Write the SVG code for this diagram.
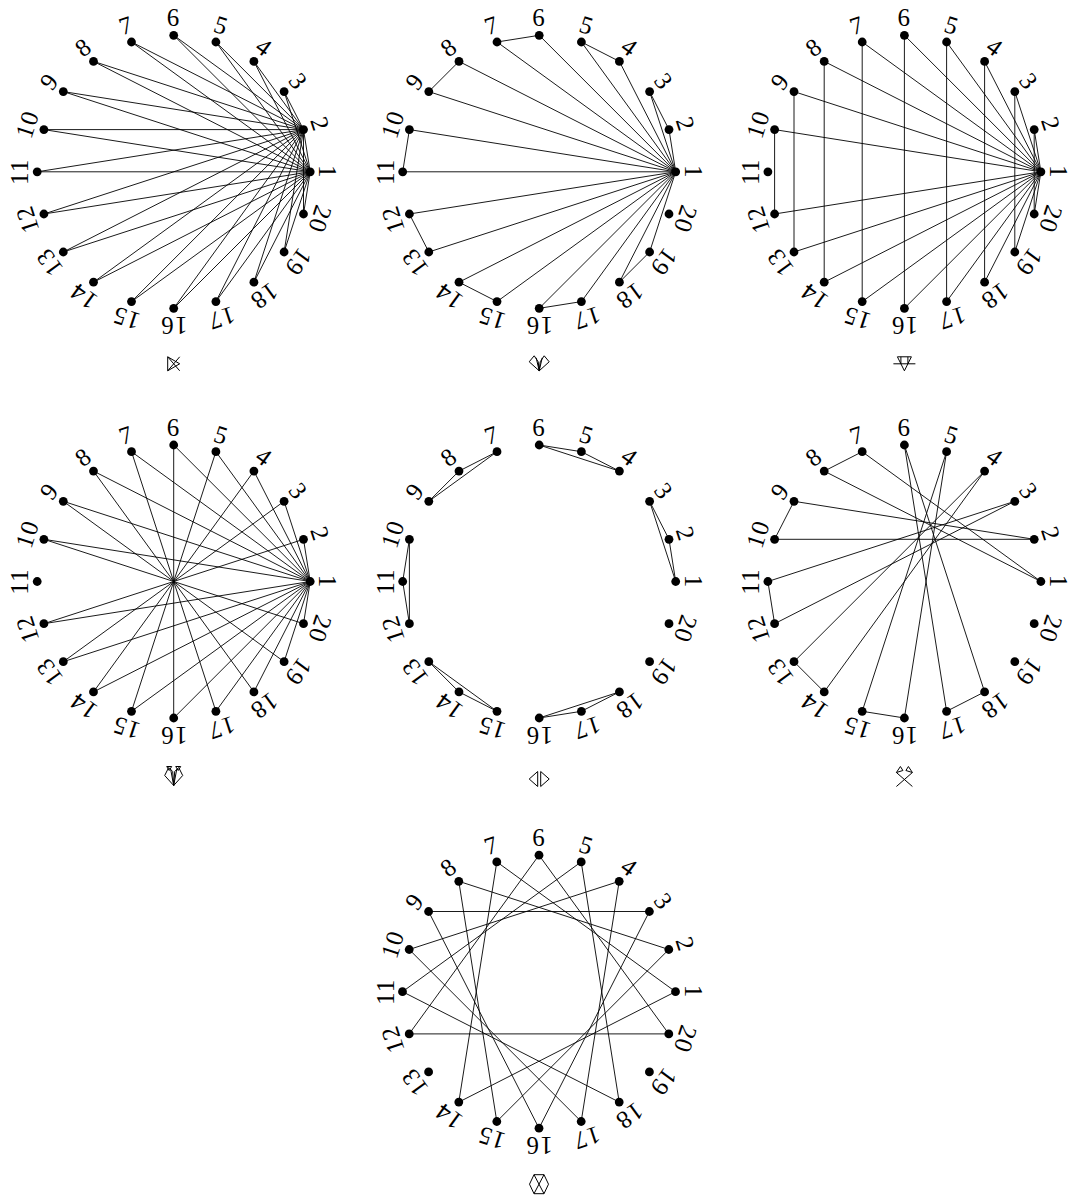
<svg xmlns="http://www.w3.org/2000/svg" width="1073" height="1201" viewBox="0 0 1073 1201">
<style>
.e path{stroke:#000;stroke-width:0.9;fill:none;stroke-linecap:round}
.n circle{fill:#000}
.n text{font-family:"Liberation Serif","DejaVu Serif",serif;font-size:25px;letter-spacing:1.2px;text-anchor:middle;dominant-baseline:central;fill:#000}
.s{stroke:#000;stroke-width:1;fill:none;stroke-linejoin:miter}
</style>
<rect width="1073" height="1201" fill="#fff"/>

<!-- Panel 1 -->
<g id="panel1" transform="translate(173.7 171.8)">
<g id="p1-edges" class="e">
<path d="M136.5,0L129.8,-42.2"/>
<path d="M136.5,0L110.4,-80.2"/><path d="M136.5,0L80.2,-110.4"/><path d="M136.5,0L42.2,-129.8"/><path d="M136.5,0L0,-136.5"/><path d="M136.5,0L-42.2,-129.8"/><path d="M136.5,0L-80.2,-110.4"/><path d="M136.5,0L-110.4,-80.2"/><path d="M136.5,0L-129.8,-42.2"/><path d="M136.5,0L-136.5,0"/><path d="M136.5,0L-129.8,42.2"/><path d="M136.5,0L-110.4,80.2"/><path d="M136.5,0L-80.2,110.4"/><path d="M136.5,0L-42.2,129.8"/><path d="M136.5,0L0,136.5"/><path d="M136.5,0L42.2,129.8"/><path d="M136.5,0L80.2,110.4"/><path d="M136.5,0L110.4,80.2"/><path d="M136.5,0L129.8,42.2"/>
<path d="M129.8,-42.2L110.4,-80.2"/><path d="M129.8,-42.2L80.2,-110.4"/><path d="M129.8,-42.2L42.2,-129.8"/><path d="M129.8,-42.2L0,-136.5"/><path d="M129.8,-42.2L-42.2,-129.8"/><path d="M129.8,-42.2L-80.2,-110.4"/><path d="M129.8,-42.2L-110.4,-80.2"/><path d="M129.8,-42.2L-129.8,-42.2"/><path d="M129.8,-42.2L-136.5,0"/><path d="M129.8,-42.2L-129.8,42.2"/><path d="M129.8,-42.2L-110.4,80.2"/><path d="M129.8,-42.2L-80.2,110.4"/><path d="M129.8,-42.2L-42.2,129.8"/><path d="M129.8,-42.2L0,136.5"/><path d="M129.8,-42.2L42.2,129.8"/><path d="M129.8,-42.2L80.2,110.4"/><path d="M129.8,-42.2L110.4,80.2"/><path d="M129.8,-42.2L129.8,42.2"/>
</g>
<g id="p1-n1" class="n"><circle cx="136.5" cy="0" r="4.4"/><text transform="rotate(0) translate(154) rotate(90)">1</text></g>
<g id="p1-n2" class="n"><circle cx="129.8" cy="-42.2" r="4.4"/><text transform="rotate(-18) translate(154) rotate(90)">2</text></g>
<g id="p1-n3" class="n"><circle cx="110.4" cy="-80.2" r="4.4"/><text transform="rotate(-36) translate(154) rotate(90)">3</text></g>
<g id="p1-n4" class="n"><circle cx="80.2" cy="-110.4" r="4.4"/><text transform="rotate(-54) translate(154) rotate(90)">4</text></g>
<g id="p1-n5" class="n"><circle cx="42.2" cy="-129.8" r="4.4"/><text transform="rotate(-72) translate(154) rotate(90)">5</text></g>
<g id="p1-n6" class="n"><circle cx="0" cy="-136.5" r="4.4"/><text transform="rotate(-90) translate(154) rotate(90)">6</text></g>
<g id="p1-n7" class="n"><circle cx="-42.2" cy="-129.8" r="4.4"/><text transform="rotate(-108) translate(154) rotate(90)">7</text></g>
<g id="p1-n8" class="n"><circle cx="-80.2" cy="-110.4" r="4.4"/><text transform="rotate(-126) translate(154) rotate(90)">8</text></g>
<g id="p1-n9" class="n"><circle cx="-110.4" cy="-80.2" r="4.4"/><text transform="rotate(-144) translate(154) rotate(90)">9</text></g>
<g id="p1-n10" class="n"><circle cx="-129.8" cy="-42.2" r="4.4"/><text transform="rotate(-162) translate(154) rotate(90)">10</text></g>
<g id="p1-n11" class="n"><circle cx="-136.5" cy="0" r="4.4"/><text transform="rotate(-180) translate(154) rotate(90)">11</text></g>
<g id="p1-n12" class="n"><circle cx="-129.8" cy="42.2" r="4.4"/><text transform="rotate(-198) translate(154) rotate(90)">12</text></g>
<g id="p1-n13" class="n"><circle cx="-110.4" cy="80.2" r="4.4"/><text transform="rotate(-216) translate(154) rotate(90)">13</text></g>
<g id="p1-n14" class="n"><circle cx="-80.2" cy="110.4" r="4.4"/><text transform="rotate(-234) translate(154) rotate(90)">14</text></g>
<g id="p1-n15" class="n"><circle cx="-42.2" cy="129.8" r="4.4"/><text transform="rotate(-252) translate(154) rotate(90)">15</text></g>
<g id="p1-n16" class="n"><circle cx="0" cy="136.5" r="4.4"/><text transform="rotate(-270) translate(154) rotate(90)">16</text></g>
<g id="p1-n17" class="n"><circle cx="42.2" cy="129.8" r="4.4"/><text transform="rotate(-288) translate(154) rotate(90)">17</text></g>
<g id="p1-n18" class="n"><circle cx="80.2" cy="110.4" r="4.4"/><text transform="rotate(-306) translate(154) rotate(90)">18</text></g>
<g id="p1-n19" class="n"><circle cx="110.4" cy="80.2" r="4.4"/><text transform="rotate(-324) translate(154) rotate(90)">19</text></g>
<g id="p1-n20" class="n"><circle cx="129.8" cy="42.2" r="4.4"/><text transform="rotate(-342) translate(154) rotate(90)">20</text></g>
<g id="p1-sym"><path class="s" d="M-6,185V199L6,192Z M-6,185L6,199 M-6,199L6,185"/></g>
</g>

<!-- Panel 2 -->
<g id="panel2" transform="translate(539.2 171.8)">
<g id="p2-edges" class="e">
<path d="M136.5,0L129.8,-42.2"/><path d="M136.5,0L110.4,-80.2"/><path d="M136.5,0L80.2,-110.4"/><path d="M136.5,0L42.2,-129.8"/><path d="M136.5,0L0,-136.5"/><path d="M136.5,0L-42.2,-129.8"/><path d="M136.5,0L-80.2,-110.4"/><path d="M136.5,0L-110.4,-80.2"/><path d="M136.5,0L-129.8,-42.2"/><path d="M136.5,0L-136.5,0"/><path d="M136.5,0L-129.8,42.2"/><path d="M136.5,0L-110.4,80.2"/><path d="M136.5,0L-80.2,110.4"/><path d="M136.5,0L-42.2,129.8"/><path d="M136.5,0L0,136.5"/><path d="M136.5,0L42.2,129.8"/><path d="M136.5,0L80.2,110.4"/><path d="M136.5,0L110.4,80.2"/>
<path d="M129.8,-42.2L110.4,-80.2"/><path d="M80.2,-110.4L42.2,-129.8"/><path d="M0,-136.5L-42.2,-129.8"/><path d="M-80.2,-110.4L-110.4,-80.2"/><path d="M-129.8,-42.2L-136.5,0"/><path d="M-129.8,42.2L-110.4,80.2"/><path d="M-80.2,110.4L-42.2,129.8"/><path d="M0,136.5L42.2,129.8"/><path d="M80.2,110.4L110.4,80.2"/>
</g>
<g id="p2-n1" class="n"><circle cx="136.5" cy="0" r="4.4"/><text transform="rotate(0) translate(154) rotate(90)">1</text></g>
<g id="p2-n2" class="n"><circle cx="129.8" cy="-42.2" r="4.4"/><text transform="rotate(-18) translate(154) rotate(90)">2</text></g>
<g id="p2-n3" class="n"><circle cx="110.4" cy="-80.2" r="4.4"/><text transform="rotate(-36) translate(154) rotate(90)">3</text></g>
<g id="p2-n4" class="n"><circle cx="80.2" cy="-110.4" r="4.4"/><text transform="rotate(-54) translate(154) rotate(90)">4</text></g>
<g id="p2-n5" class="n"><circle cx="42.2" cy="-129.8" r="4.4"/><text transform="rotate(-72) translate(154) rotate(90)">5</text></g>
<g id="p2-n6" class="n"><circle cx="0" cy="-136.5" r="4.4"/><text transform="rotate(-90) translate(154) rotate(90)">6</text></g>
<g id="p2-n7" class="n"><circle cx="-42.2" cy="-129.8" r="4.4"/><text transform="rotate(-108) translate(154) rotate(90)">7</text></g>
<g id="p2-n8" class="n"><circle cx="-80.2" cy="-110.4" r="4.4"/><text transform="rotate(-126) translate(154) rotate(90)">8</text></g>
<g id="p2-n9" class="n"><circle cx="-110.4" cy="-80.2" r="4.4"/><text transform="rotate(-144) translate(154) rotate(90)">9</text></g>
<g id="p2-n10" class="n"><circle cx="-129.8" cy="-42.2" r="4.4"/><text transform="rotate(-162) translate(154) rotate(90)">10</text></g>
<g id="p2-n11" class="n"><circle cx="-136.5" cy="0" r="4.4"/><text transform="rotate(-180) translate(154) rotate(90)">11</text></g>
<g id="p2-n12" class="n"><circle cx="-129.8" cy="42.2" r="4.4"/><text transform="rotate(-198) translate(154) rotate(90)">12</text></g>
<g id="p2-n13" class="n"><circle cx="-110.4" cy="80.2" r="4.4"/><text transform="rotate(-216) translate(154) rotate(90)">13</text></g>
<g id="p2-n14" class="n"><circle cx="-80.2" cy="110.4" r="4.4"/><text transform="rotate(-234) translate(154) rotate(90)">14</text></g>
<g id="p2-n15" class="n"><circle cx="-42.2" cy="129.8" r="4.4"/><text transform="rotate(-252) translate(154) rotate(90)">15</text></g>
<g id="p2-n16" class="n"><circle cx="0" cy="136.5" r="4.4"/><text transform="rotate(-270) translate(154) rotate(90)">16</text></g>
<g id="p2-n17" class="n"><circle cx="42.2" cy="129.8" r="4.4"/><text transform="rotate(-288) translate(154) rotate(90)">17</text></g>
<g id="p2-n18" class="n"><circle cx="80.2" cy="110.4" r="4.4"/><text transform="rotate(-306) translate(154) rotate(90)">18</text></g>
<g id="p2-n19" class="n"><circle cx="110.4" cy="80.2" r="4.4"/><text transform="rotate(-324) translate(154) rotate(90)">19</text></g>
<g id="p2-n20" class="n"><circle cx="129.8" cy="42.2" r="4.4"/><text transform="rotate(-342) translate(154) rotate(90)">20</text></g>
<g id="p2-sym"><path class="s" d="M0,199L-10,190L-5,184L-1,190Z M0,199L10,190L5,184L1,190Z M0,199L-3,186 M0,199L3,186"/></g>
</g>

<!-- Panel 3 -->
<g id="panel3" transform="translate(904.4 171.8)">
<g id="p3-edges" class="e">
<path d="M136.5,0L129.8,-42.2"/><path d="M136.5,0L110.4,-80.2"/><path d="M136.5,0L80.2,-110.4"/><path d="M136.5,0L42.2,-129.8"/><path d="M136.5,0L0,-136.5"/><path d="M136.5,0L-42.2,-129.8"/><path d="M136.5,0L-80.2,-110.4"/><path d="M136.5,0L-110.4,-80.2"/><path d="M136.5,0L-129.8,-42.2"/><path d="M136.5,0L-129.8,42.2"/><path d="M136.5,0L-110.4,80.2"/><path d="M136.5,0L-80.2,110.4"/><path d="M136.5,0L-42.2,129.8"/><path d="M136.5,0L0,136.5"/><path d="M136.5,0L42.2,129.8"/><path d="M136.5,0L80.2,110.4"/><path d="M136.5,0L110.4,80.2"/><path d="M136.5,0L129.8,42.2"/>
<path d="M129.8,-42.2L129.8,42.2"/><path d="M110.4,-80.2L110.4,80.2"/><path d="M80.2,-110.4L80.2,110.4"/><path d="M42.2,-129.8L42.2,129.8"/><path d="M0,-136.5L0,136.5"/><path d="M-42.2,-129.8L-42.2,129.8"/><path d="M-80.2,-110.4L-80.2,110.4"/><path d="M-110.4,-80.2L-110.4,80.2"/><path d="M-129.8,-42.2L-129.8,42.2"/>
</g>
<g id="p3-n1" class="n"><circle cx="136.5" cy="0" r="4.4"/><text transform="rotate(0) translate(154) rotate(90)">1</text></g>
<g id="p3-n2" class="n"><circle cx="129.8" cy="-42.2" r="4.4"/><text transform="rotate(-18) translate(154) rotate(90)">2</text></g>
<g id="p3-n3" class="n"><circle cx="110.4" cy="-80.2" r="4.4"/><text transform="rotate(-36) translate(154) rotate(90)">3</text></g>
<g id="p3-n4" class="n"><circle cx="80.2" cy="-110.4" r="4.4"/><text transform="rotate(-54) translate(154) rotate(90)">4</text></g>
<g id="p3-n5" class="n"><circle cx="42.2" cy="-129.8" r="4.4"/><text transform="rotate(-72) translate(154) rotate(90)">5</text></g>
<g id="p3-n6" class="n"><circle cx="0" cy="-136.5" r="4.4"/><text transform="rotate(-90) translate(154) rotate(90)">6</text></g>
<g id="p3-n7" class="n"><circle cx="-42.2" cy="-129.8" r="4.4"/><text transform="rotate(-108) translate(154) rotate(90)">7</text></g>
<g id="p3-n8" class="n"><circle cx="-80.2" cy="-110.4" r="4.4"/><text transform="rotate(-126) translate(154) rotate(90)">8</text></g>
<g id="p3-n9" class="n"><circle cx="-110.4" cy="-80.2" r="4.4"/><text transform="rotate(-144) translate(154) rotate(90)">9</text></g>
<g id="p3-n10" class="n"><circle cx="-129.8" cy="-42.2" r="4.4"/><text transform="rotate(-162) translate(154) rotate(90)">10</text></g>
<g id="p3-n11" class="n"><circle cx="-136.5" cy="0" r="4.4"/><text transform="rotate(-180) translate(154) rotate(90)">11</text></g>
<g id="p3-n12" class="n"><circle cx="-129.8" cy="42.2" r="4.4"/><text transform="rotate(-198) translate(154) rotate(90)">12</text></g>
<g id="p3-n13" class="n"><circle cx="-110.4" cy="80.2" r="4.4"/><text transform="rotate(-216) translate(154) rotate(90)">13</text></g>
<g id="p3-n14" class="n"><circle cx="-80.2" cy="110.4" r="4.4"/><text transform="rotate(-234) translate(154) rotate(90)">14</text></g>
<g id="p3-n15" class="n"><circle cx="-42.2" cy="129.8" r="4.4"/><text transform="rotate(-252) translate(154) rotate(90)">15</text></g>
<g id="p3-n16" class="n"><circle cx="0" cy="136.5" r="4.4"/><text transform="rotate(-270) translate(154) rotate(90)">16</text></g>
<g id="p3-n17" class="n"><circle cx="42.2" cy="129.8" r="4.4"/><text transform="rotate(-288) translate(154) rotate(90)">17</text></g>
<g id="p3-n18" class="n"><circle cx="80.2" cy="110.4" r="4.4"/><text transform="rotate(-306) translate(154) rotate(90)">18</text></g>
<g id="p3-n19" class="n"><circle cx="110.4" cy="80.2" r="4.4"/><text transform="rotate(-324) translate(154) rotate(90)">19</text></g>
<g id="p3-n20" class="n"><circle cx="129.8" cy="42.2" r="4.4"/><text transform="rotate(-342) translate(154) rotate(90)">20</text></g>
<g id="p3-sym"><path class="s" d="M-7,185H7 M-7,185L0,199L7,185 M-11,192H11 M-3.5,185V192 M3.5,185V192"/></g>
</g>

<!-- Panel 4 -->
<g id="panel4" transform="translate(173.7 581.5)">
<g id="p4-edges" class="e">
<path d="M136.5,0L129.8,-42.2"/><path d="M136.5,0L110.4,-80.2"/><path d="M136.5,0L80.2,-110.4"/><path d="M136.5,0L42.2,-129.8"/><path d="M136.5,0L0,-136.5"/><path d="M136.5,0L-42.2,-129.8"/><path d="M136.5,0L-80.2,-110.4"/><path d="M136.5,0L-110.4,-80.2"/><path d="M136.5,0L-129.8,-42.2"/><path d="M136.5,0L-129.8,42.2"/><path d="M136.5,0L-110.4,80.2"/><path d="M136.5,0L-80.2,110.4"/><path d="M136.5,0L-42.2,129.8"/><path d="M136.5,0L0,136.5"/><path d="M136.5,0L42.2,129.8"/><path d="M136.5,0L80.2,110.4"/><path d="M136.5,0L110.4,80.2"/><path d="M136.5,0L129.8,42.2"/>
<path d="M129.8,-42.2L-129.8,42.2"/><path d="M110.4,-80.2L-110.4,80.2"/><path d="M80.2,-110.4L-80.2,110.4"/><path d="M42.2,-129.8L-42.2,129.8"/><path d="M0,-136.5L0,136.5"/><path d="M-42.2,-129.8L42.2,129.8"/><path d="M-80.2,-110.4L80.2,110.4"/><path d="M-110.4,-80.2L110.4,80.2"/><path d="M-129.8,-42.2L129.8,42.2"/>
</g>
<g id="p4-n1" class="n"><circle cx="136.5" cy="0" r="4.4"/><text transform="rotate(0) translate(154) rotate(90)">1</text></g>
<g id="p4-n2" class="n"><circle cx="129.8" cy="-42.2" r="4.4"/><text transform="rotate(-18) translate(154) rotate(90)">2</text></g>
<g id="p4-n3" class="n"><circle cx="110.4" cy="-80.2" r="4.4"/><text transform="rotate(-36) translate(154) rotate(90)">3</text></g>
<g id="p4-n4" class="n"><circle cx="80.2" cy="-110.4" r="4.4"/><text transform="rotate(-54) translate(154) rotate(90)">4</text></g>
<g id="p4-n5" class="n"><circle cx="42.2" cy="-129.8" r="4.4"/><text transform="rotate(-72) translate(154) rotate(90)">5</text></g>
<g id="p4-n6" class="n"><circle cx="0" cy="-136.5" r="4.4"/><text transform="rotate(-90) translate(154) rotate(90)">6</text></g>
<g id="p4-n7" class="n"><circle cx="-42.2" cy="-129.8" r="4.4"/><text transform="rotate(-108) translate(154) rotate(90)">7</text></g>
<g id="p4-n8" class="n"><circle cx="-80.2" cy="-110.4" r="4.4"/><text transform="rotate(-126) translate(154) rotate(90)">8</text></g>
<g id="p4-n9" class="n"><circle cx="-110.4" cy="-80.2" r="4.4"/><text transform="rotate(-144) translate(154) rotate(90)">9</text></g>
<g id="p4-n10" class="n"><circle cx="-129.8" cy="-42.2" r="4.4"/><text transform="rotate(-162) translate(154) rotate(90)">10</text></g>
<g id="p4-n11" class="n"><circle cx="-136.5" cy="0" r="4.4"/><text transform="rotate(-180) translate(154) rotate(90)">11</text></g>
<g id="p4-n12" class="n"><circle cx="-129.8" cy="42.2" r="4.4"/><text transform="rotate(-198) translate(154) rotate(90)">12</text></g>
<g id="p4-n13" class="n"><circle cx="-110.4" cy="80.2" r="4.4"/><text transform="rotate(-216) translate(154) rotate(90)">13</text></g>
<g id="p4-n14" class="n"><circle cx="-80.2" cy="110.4" r="4.4"/><text transform="rotate(-234) translate(154) rotate(90)">14</text></g>
<g id="p4-n15" class="n"><circle cx="-42.2" cy="129.8" r="4.4"/><text transform="rotate(-252) translate(154) rotate(90)">15</text></g>
<g id="p4-n16" class="n"><circle cx="0" cy="136.5" r="4.4"/><text transform="rotate(-270) translate(154) rotate(90)">16</text></g>
<g id="p4-n17" class="n"><circle cx="42.2" cy="129.8" r="4.4"/><text transform="rotate(-288) translate(154) rotate(90)">17</text></g>
<g id="p4-n18" class="n"><circle cx="80.2" cy="110.4" r="4.4"/><text transform="rotate(-306) translate(154) rotate(90)">18</text></g>
<g id="p4-n19" class="n"><circle cx="110.4" cy="80.2" r="4.4"/><text transform="rotate(-324) translate(154) rotate(90)">19</text></g>
<g id="p4-n20" class="n"><circle cx="129.8" cy="42.2" r="4.4"/><text transform="rotate(-342) translate(154) rotate(90)">20</text></g>
<g id="p4-sym"><path class="s" d="M0,204L-9,194L-5,186L-1,190Z M0,204L9,194L5,186L1,190Z M-7,185H-2L-4.5,189Z M2,185H7L4.5,189Z M0,204L-3,188 M0,204L3,188"/></g>
</g>

<!-- Panel 5 -->
<g id="panel5" transform="translate(539.2 581.5)">
<g id="p5-edges" class="e">
<path d="M136.5,0L129.8,-42.2"/><path d="M129.8,-42.2L110.4,-80.2"/><path d="M110.4,-80.2L136.5,0"/>
<path d="M80.2,-110.4L42.2,-129.8"/><path d="M42.2,-129.8L0,-136.5"/><path d="M0,-136.5L80.2,-110.4"/>
<path d="M-42.2,-129.8L-80.2,-110.4"/><path d="M-80.2,-110.4L-110.4,-80.2"/><path d="M-110.4,-80.2L-42.2,-129.8"/>
<path d="M-129.8,-42.2L-136.5,0"/><path d="M-136.5,0L-129.8,42.2"/><path d="M-129.8,42.2L-129.8,-42.2"/>
<path d="M-110.4,80.2L-80.2,110.4"/><path d="M-80.2,110.4L-42.2,129.8"/><path d="M-42.2,129.8L-110.4,80.2"/>
<path d="M0,136.5L42.2,129.8"/><path d="M42.2,129.8L80.2,110.4"/><path d="M80.2,110.4L0,136.5"/>
</g>
<g id="p5-n1" class="n"><circle cx="136.5" cy="0" r="4.4"/><text transform="rotate(0) translate(154) rotate(90)">1</text></g>
<g id="p5-n2" class="n"><circle cx="129.8" cy="-42.2" r="4.4"/><text transform="rotate(-18) translate(154) rotate(90)">2</text></g>
<g id="p5-n3" class="n"><circle cx="110.4" cy="-80.2" r="4.4"/><text transform="rotate(-36) translate(154) rotate(90)">3</text></g>
<g id="p5-n4" class="n"><circle cx="80.2" cy="-110.4" r="4.4"/><text transform="rotate(-54) translate(154) rotate(90)">4</text></g>
<g id="p5-n5" class="n"><circle cx="42.2" cy="-129.8" r="4.4"/><text transform="rotate(-72) translate(154) rotate(90)">5</text></g>
<g id="p5-n6" class="n"><circle cx="0" cy="-136.5" r="4.4"/><text transform="rotate(-90) translate(154) rotate(90)">6</text></g>
<g id="p5-n7" class="n"><circle cx="-42.2" cy="-129.8" r="4.4"/><text transform="rotate(-108) translate(154) rotate(90)">7</text></g>
<g id="p5-n8" class="n"><circle cx="-80.2" cy="-110.4" r="4.4"/><text transform="rotate(-126) translate(154) rotate(90)">8</text></g>
<g id="p5-n9" class="n"><circle cx="-110.4" cy="-80.2" r="4.4"/><text transform="rotate(-144) translate(154) rotate(90)">9</text></g>
<g id="p5-n10" class="n"><circle cx="-129.8" cy="-42.2" r="4.4"/><text transform="rotate(-162) translate(154) rotate(90)">10</text></g>
<g id="p5-n11" class="n"><circle cx="-136.5" cy="0" r="4.4"/><text transform="rotate(-180) translate(154) rotate(90)">11</text></g>
<g id="p5-n12" class="n"><circle cx="-129.8" cy="42.2" r="4.4"/><text transform="rotate(-198) translate(154) rotate(90)">12</text></g>
<g id="p5-n13" class="n"><circle cx="-110.4" cy="80.2" r="4.4"/><text transform="rotate(-216) translate(154) rotate(90)">13</text></g>
<g id="p5-n14" class="n"><circle cx="-80.2" cy="110.4" r="4.4"/><text transform="rotate(-234) translate(154) rotate(90)">14</text></g>
<g id="p5-n15" class="n"><circle cx="-42.2" cy="129.8" r="4.4"/><text transform="rotate(-252) translate(154) rotate(90)">15</text></g>
<g id="p5-n16" class="n"><circle cx="0" cy="136.5" r="4.4"/><text transform="rotate(-270) translate(154) rotate(90)">16</text></g>
<g id="p5-n17" class="n"><circle cx="42.2" cy="129.8" r="4.4"/><text transform="rotate(-288) translate(154) rotate(90)">17</text></g>
<g id="p5-n18" class="n"><circle cx="80.2" cy="110.4" r="4.4"/><text transform="rotate(-306) translate(154) rotate(90)">18</text></g>
<g id="p5-n19" class="n"><circle cx="110.4" cy="80.2" r="4.4"/><text transform="rotate(-324) translate(154) rotate(90)">19</text></g>
<g id="p5-n20" class="n"><circle cx="129.8" cy="42.2" r="4.4"/><text transform="rotate(-342) translate(154) rotate(90)">20</text></g>
<g id="p5-sym"><path class="s" d="M-1.5,190V205L-10,197.5Z M1.5,190V205L10,197.5Z"/></g>
</g>

<!-- Panel 6 -->
<g id="panel6" transform="translate(904.4 581.5)">
<g id="p6-edges" class="e">
<path d="M136.5,0L-42.2,-129.8"/><path d="M-42.2,-129.8L-80.2,-110.4"/><path d="M-80.2,-110.4L136.5,0"/>
<path d="M129.8,-42.2L-110.4,-80.2"/><path d="M-110.4,-80.2L-129.8,-42.2"/><path d="M-129.8,-42.2L129.8,-42.2"/>
<path d="M110.4,-80.2L-136.5,0"/><path d="M-136.5,0L-129.8,42.2"/><path d="M-129.8,42.2L110.4,-80.2"/>
<path d="M80.2,-110.4L-110.4,80.2"/><path d="M-110.4,80.2L-80.2,110.4"/><path d="M-80.2,110.4L80.2,-110.4"/>
<path d="M42.2,-129.8L-42.2,129.8"/><path d="M-42.2,129.8L0,136.5"/><path d="M0,136.5L42.2,-129.8"/>
<path d="M0,-136.5L42.2,129.8"/><path d="M42.2,129.8L80.2,110.4"/><path d="M80.2,110.4L0,-136.5"/>
</g>
<g id="p6-n1" class="n"><circle cx="136.5" cy="0" r="4.4"/><text transform="rotate(0) translate(154) rotate(90)">1</text></g>
<g id="p6-n2" class="n"><circle cx="129.8" cy="-42.2" r="4.4"/><text transform="rotate(-18) translate(154) rotate(90)">2</text></g>
<g id="p6-n3" class="n"><circle cx="110.4" cy="-80.2" r="4.4"/><text transform="rotate(-36) translate(154) rotate(90)">3</text></g>
<g id="p6-n4" class="n"><circle cx="80.2" cy="-110.4" r="4.4"/><text transform="rotate(-54) translate(154) rotate(90)">4</text></g>
<g id="p6-n5" class="n"><circle cx="42.2" cy="-129.8" r="4.4"/><text transform="rotate(-72) translate(154) rotate(90)">5</text></g>
<g id="p6-n6" class="n"><circle cx="0" cy="-136.5" r="4.4"/><text transform="rotate(-90) translate(154) rotate(90)">6</text></g>
<g id="p6-n7" class="n"><circle cx="-42.2" cy="-129.8" r="4.4"/><text transform="rotate(-108) translate(154) rotate(90)">7</text></g>
<g id="p6-n8" class="n"><circle cx="-80.2" cy="-110.4" r="4.4"/><text transform="rotate(-126) translate(154) rotate(90)">8</text></g>
<g id="p6-n9" class="n"><circle cx="-110.4" cy="-80.2" r="4.4"/><text transform="rotate(-144) translate(154) rotate(90)">9</text></g>
<g id="p6-n10" class="n"><circle cx="-129.8" cy="-42.2" r="4.4"/><text transform="rotate(-162) translate(154) rotate(90)">10</text></g>
<g id="p6-n11" class="n"><circle cx="-136.5" cy="0" r="4.4"/><text transform="rotate(-180) translate(154) rotate(90)">11</text></g>
<g id="p6-n12" class="n"><circle cx="-129.8" cy="42.2" r="4.4"/><text transform="rotate(-198) translate(154) rotate(90)">12</text></g>
<g id="p6-n13" class="n"><circle cx="-110.4" cy="80.2" r="4.4"/><text transform="rotate(-216) translate(154) rotate(90)">13</text></g>
<g id="p6-n14" class="n"><circle cx="-80.2" cy="110.4" r="4.4"/><text transform="rotate(-234) translate(154) rotate(90)">14</text></g>
<g id="p6-n15" class="n"><circle cx="-42.2" cy="129.8" r="4.4"/><text transform="rotate(-252) translate(154) rotate(90)">15</text></g>
<g id="p6-n16" class="n"><circle cx="0" cy="136.5" r="4.4"/><text transform="rotate(-270) translate(154) rotate(90)">16</text></g>
<g id="p6-n17" class="n"><circle cx="42.2" cy="129.8" r="4.4"/><text transform="rotate(-288) translate(154) rotate(90)">17</text></g>
<g id="p6-n18" class="n"><circle cx="80.2" cy="110.4" r="4.4"/><text transform="rotate(-306) translate(154) rotate(90)">18</text></g>
<g id="p6-n19" class="n"><circle cx="110.4" cy="80.2" r="4.4"/><text transform="rotate(-324) translate(154) rotate(90)">19</text></g>
<g id="p6-n20" class="n"><circle cx="129.8" cy="42.2" r="4.4"/><text transform="rotate(-342) translate(154) rotate(90)">20</text></g>
<g id="p6-sym"><path class="s" d="M-8,191L8,205 M8,191L-8,205 M-8,191L-4,185L-1.5,189Z M8,191L4,185L1.5,189Z"/></g>
</g>

<!-- Panel 7 -->
<g id="panel7" transform="translate(539 991.7)">
<g id="p7-edges" class="e">
<path d="M136.5,0L-42.2,-129.8"/><path d="M-42.2,-129.8L-80.2,110.4"/><path d="M-80.2,110.4L136.5,0"/>
<path d="M129.8,-42.2L-80.2,-110.4"/><path d="M-80.2,-110.4L-42.2,129.8"/><path d="M-42.2,129.8L129.8,-42.2"/>
<path d="M110.4,-80.2L-110.4,-80.2"/><path d="M-110.4,-80.2L0,136.5"/><path d="M0,136.5L110.4,-80.2"/>
<path d="M80.2,-110.4L-129.8,-42.2"/><path d="M-129.8,-42.2L42.2,129.8"/><path d="M42.2,129.8L80.2,-110.4"/>
<path d="M42.2,-129.8L-136.5,0"/><path d="M-136.5,0L80.2,110.4"/><path d="M80.2,110.4L42.2,-129.8"/>
<path d="M0,-136.5L-129.8,42.2"/><path d="M-129.8,42.2L129.8,42.2"/><path d="M129.8,42.2L0,-136.5"/>
</g>
<g id="p7-n1" class="n"><circle cx="136.5" cy="0" r="4.4"/><text transform="rotate(0) translate(154) rotate(90)">1</text></g>
<g id="p7-n2" class="n"><circle cx="129.8" cy="-42.2" r="4.4"/><text transform="rotate(-18) translate(154) rotate(90)">2</text></g>
<g id="p7-n3" class="n"><circle cx="110.4" cy="-80.2" r="4.4"/><text transform="rotate(-36) translate(154) rotate(90)">3</text></g>
<g id="p7-n4" class="n"><circle cx="80.2" cy="-110.4" r="4.4"/><text transform="rotate(-54) translate(154) rotate(90)">4</text></g>
<g id="p7-n5" class="n"><circle cx="42.2" cy="-129.8" r="4.4"/><text transform="rotate(-72) translate(154) rotate(90)">5</text></g>
<g id="p7-n6" class="n"><circle cx="0" cy="-136.5" r="4.4"/><text transform="rotate(-90) translate(154) rotate(90)">6</text></g>
<g id="p7-n7" class="n"><circle cx="-42.2" cy="-129.8" r="4.4"/><text transform="rotate(-108) translate(154) rotate(90)">7</text></g>
<g id="p7-n8" class="n"><circle cx="-80.2" cy="-110.4" r="4.4"/><text transform="rotate(-126) translate(154) rotate(90)">8</text></g>
<g id="p7-n9" class="n"><circle cx="-110.4" cy="-80.2" r="4.4"/><text transform="rotate(-144) translate(154) rotate(90)">9</text></g>
<g id="p7-n10" class="n"><circle cx="-129.8" cy="-42.2" r="4.4"/><text transform="rotate(-162) translate(154) rotate(90)">10</text></g>
<g id="p7-n11" class="n"><circle cx="-136.5" cy="0" r="4.4"/><text transform="rotate(-180) translate(154) rotate(90)">11</text></g>
<g id="p7-n12" class="n"><circle cx="-129.8" cy="42.2" r="4.4"/><text transform="rotate(-198) translate(154) rotate(90)">12</text></g>
<g id="p7-n13" class="n"><circle cx="-110.4" cy="80.2" r="4.4"/><text transform="rotate(-216) translate(154) rotate(90)">13</text></g>
<g id="p7-n14" class="n"><circle cx="-80.2" cy="110.4" r="4.4"/><text transform="rotate(-234) translate(154) rotate(90)">14</text></g>
<g id="p7-n15" class="n"><circle cx="-42.2" cy="129.8" r="4.4"/><text transform="rotate(-252) translate(154) rotate(90)">15</text></g>
<g id="p7-n16" class="n"><circle cx="0" cy="136.5" r="4.4"/><text transform="rotate(-270) translate(154) rotate(90)">16</text></g>
<g id="p7-n17" class="n"><circle cx="42.2" cy="129.8" r="4.4"/><text transform="rotate(-288) translate(154) rotate(90)">17</text></g>
<g id="p7-n18" class="n"><circle cx="80.2" cy="110.4" r="4.4"/><text transform="rotate(-306) translate(154) rotate(90)">18</text></g>
<g id="p7-n19" class="n"><circle cx="110.4" cy="80.2" r="4.4"/><text transform="rotate(-324) translate(154) rotate(90)">19</text></g>
<g id="p7-n20" class="n"><circle cx="129.8" cy="42.2" r="4.4"/><text transform="rotate(-342) translate(154) rotate(90)">20</text></g>
<g id="p7-sym"><path class="s" d="M-5,183H5L9.5,192.5L5,202H-5L-9.5,192.5Z M-5,183L5,202 M5,183L-5,202"/></g>
</g>
</svg>
